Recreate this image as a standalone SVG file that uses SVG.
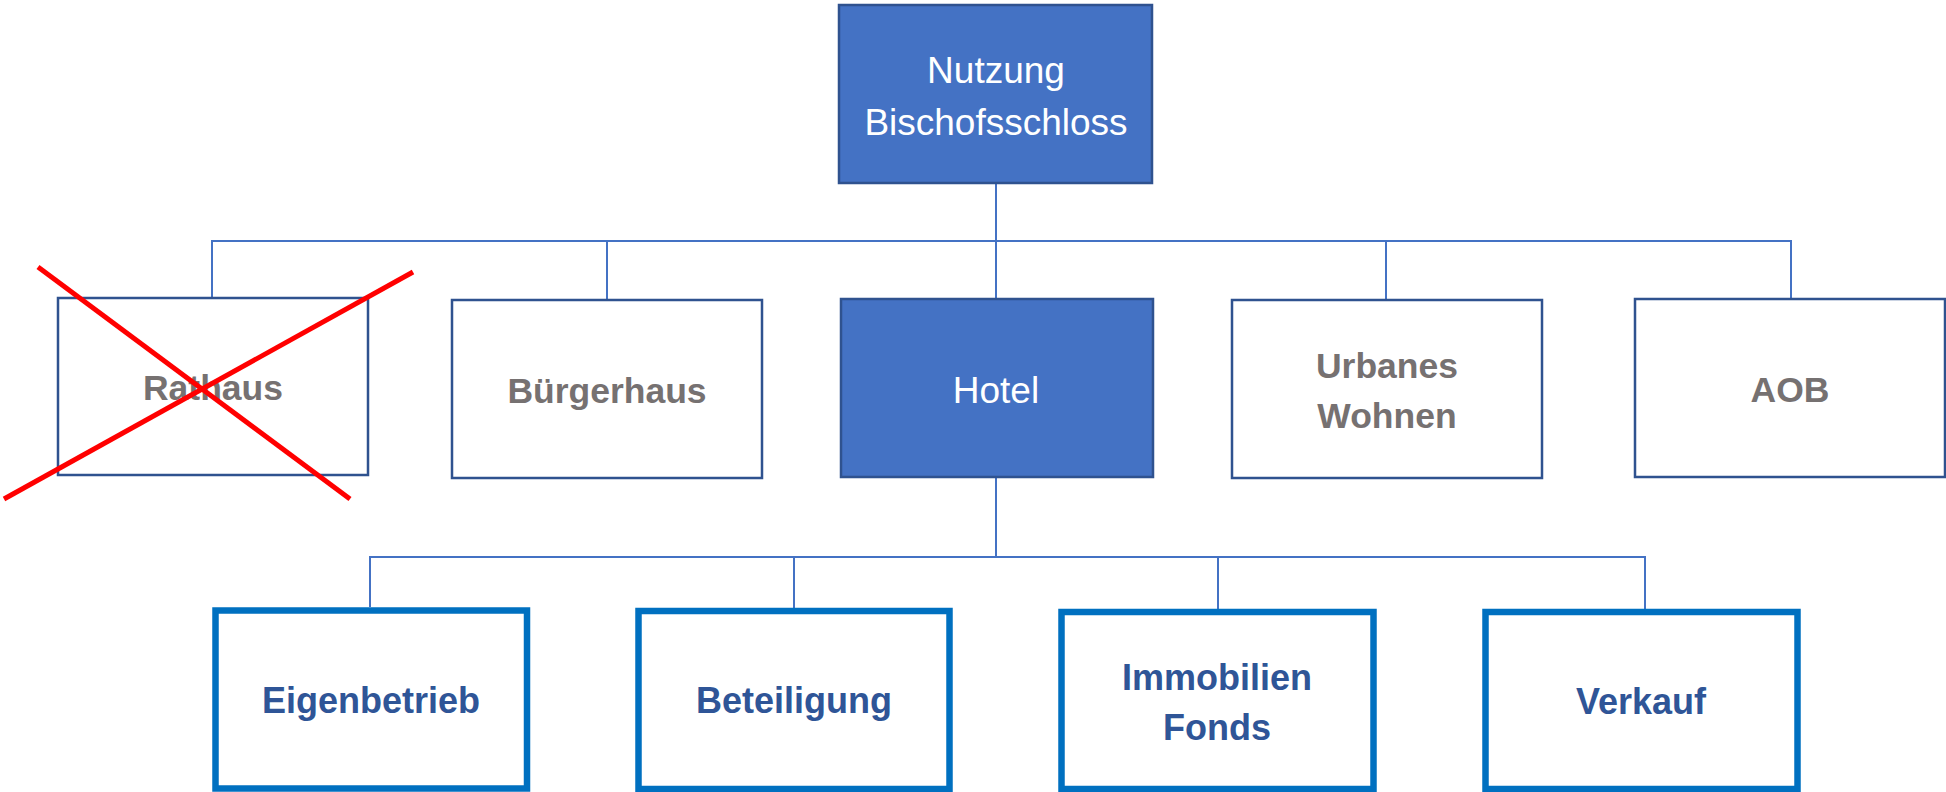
<svg xmlns="http://www.w3.org/2000/svg" width="1946" height="792" viewBox="0 0 1946 792">
<style>
.conn{stroke:#4472C4;stroke-width:2;fill:none}
.filled{fill:#4472C4;stroke:#2F528F;stroke-width:2.5}
.plain{fill:#FFFFFF;stroke:#2F528F;stroke-width:2.5}
.thick{fill:#FFFFFF;stroke:#0070C0;stroke-width:6.5}
.wt{font-family:"Liberation Sans",Arial,sans-serif;font-size:37px;fill:#FFFFFF;text-anchor:middle}
.gt{font-family:"Liberation Sans",Arial,sans-serif;font-size:35.5px;font-weight:bold;fill:#767171;text-anchor:middle}
.bt{font-family:"Liberation Sans",Arial,sans-serif;font-size:36px;font-weight:bold;fill:#2F5597;text-anchor:middle}
.cross{stroke:#FF0000;stroke-width:5;stroke-linecap:butt}
</style>
<rect width="1946" height="792" fill="#FFFFFF"/>
<g id="connectors">
<path class="conn" d="M996 183 V298"/>
<path class="conn" d="M212 297 V241 H1791 V298"/>
<path class="conn" d="M607 241 V299"/>
<path class="conn" d="M1386 241 V299"/>
<path class="conn" d="M996 477 V557"/>
<path class="conn" d="M370 607 V557 H1645 V609"/>
<path class="conn" d="M794 557 V608"/>
<path class="conn" d="M1218 557 V609"/>
</g>
<g id="root">
<rect class="filled" x="839" y="5" width="313" height="178"/>
<text class="wt" x="996" y="83">Nutzung</text>
<text class="wt" x="996" y="135">Bischofsschloss</text>
</g>
<g id="rathaus">
<rect class="plain" x="58" y="298" width="310" height="177"/>
<text class="gt" x="213" y="400">Rathaus</text>
</g>
<g id="buergerhaus">
<rect class="plain" x="452" y="300" width="310" height="178"/>
<text class="gt" x="607" y="403">Bürgerhaus</text>
</g>
<g id="hotel">
<rect class="filled" x="841" y="299" width="312" height="178"/>
<text class="wt" x="996" y="403">Hotel</text>
</g>
<g id="urbanes">
<rect class="plain" x="1232" y="300" width="310" height="178"/>
<text class="gt" x="1387" y="378">Urbanes</text>
<text class="gt" x="1387" y="428">Wohnen</text>
</g>
<g id="aob">
<rect class="plain" x="1635" y="299" width="310" height="178"/>
<text class="gt" x="1790" y="402">AOB</text>
</g>
<g id="eigenbetrieb">
<rect class="thick" x="215.5" y="610.5" width="311.5" height="178"/>
<text class="bt" x="371" y="713">Eigenbetrieb</text>
</g>
<g id="beteiligung">
<rect class="thick" x="638.5" y="611" width="311" height="178"/>
<text class="bt" x="794" y="713">Beteiligung</text>
</g>
<g id="immobilien">
<rect class="thick" x="1061.5" y="612" width="312" height="177"/>
<text class="bt" x="1217" y="690">Immobilien</text>
<text class="bt" x="1217" y="740">Fonds</text>
</g>
<g id="verkauf">
<rect class="thick" x="1485.5" y="612" width="312" height="177"/>
<text class="bt" x="1641" y="714">Verkauf</text>
</g>
<g id="strike">
<line class="cross" x1="38" y1="267" x2="350" y2="499"/>
<line class="cross" x1="413" y1="272" x2="4" y2="499"/>
</g>
</svg>
